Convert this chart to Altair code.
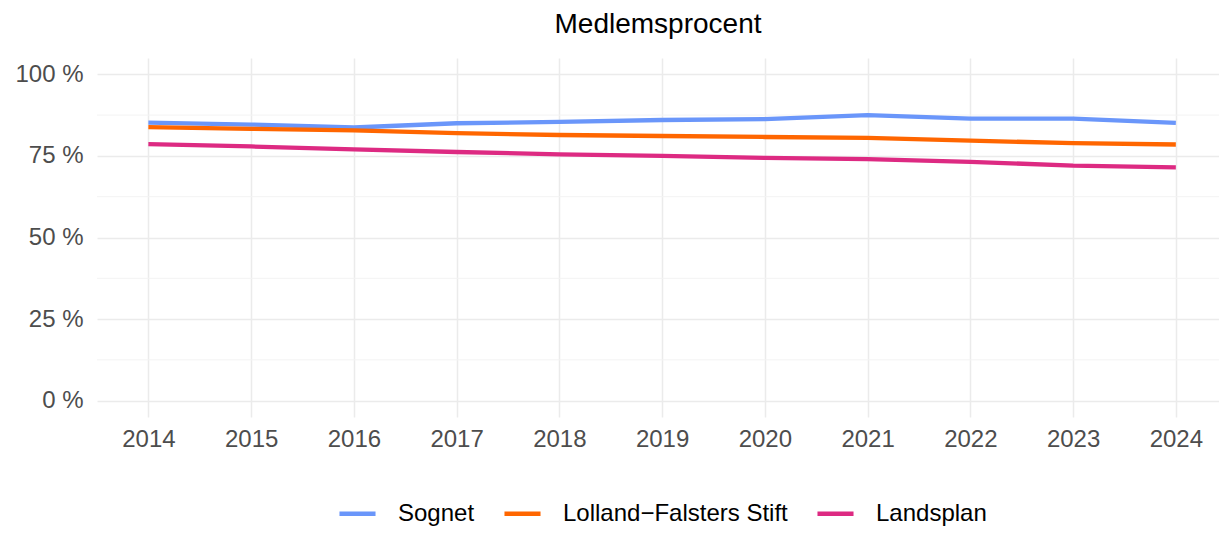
import altair as alt
import pandas as pd

years = list(range(2014, 2025))
sognet = [85.2, 84.6, 83.7, 85.0, 85.4, 86.0, 86.3, 87.5, 86.4, 86.4, 85.1]
stift = [83.8, 83.3, 82.8, 82.0, 81.4, 81.1, 80.8, 80.5, 79.7, 78.9, 78.5]
landsplan = [78.6, 77.9, 77.0, 76.2, 75.5, 75.0, 74.4, 74.0, 73.2, 72.0, 71.5]
series_names = ["Sognet", "Lolland\u2212Falsters Stift", "Landsplan"]
colors = ["#6A96FA", "#FF6600", "#DD2A82"]
y_ticks = [0, 25, 50, 75, 100]
y_minor = [12.5, 37.5, 62.5, 87.5]

rows = []
for name, vals in zip(series_names, [sognet, stift, landsplan]):
    for yr, v in zip(years, vals):
        rows.append({"Aar": yr, "Procent": v, "Serie": name})
df = pd.DataFrame(rows)

FONT = "Liberation Sans"
xscale = alt.Scale(domain=[2013.5, 2024.42], nice=False, zero=False)
yscale = alt.Scale(domain=[-5, 105], nice=False, zero=False)

minor = alt.Chart(pd.DataFrame({"Procent": y_minor})).mark_rule(
    color="#F3F3F3", strokeWidth=1
).encode(y=alt.Y("Procent:Q", scale=yscale))

lines = alt.Chart(df).mark_line(strokeWidth=4.3, strokeCap="butt", strokeJoin="round").encode(
    x=alt.X("Aar:Q", scale=xscale,
            axis=alt.Axis(values=years, format="d", title=None, grid=True,
                          gridColor="#EBEBEB", gridWidth=1.5, ticks=False, domain=False,
                          labelFontSize=24, labelFont=FONT, labelColor="#4D4D4D",
                          labelPadding=10)),
    y=alt.Y("Procent:Q", scale=yscale,
            axis=alt.Axis(values=y_ticks, labelExpr="datum.value + ' %'", title=None,
                          grid=True, gridColor="#EBEBEB", gridWidth=1.5, ticks=False,
                          domain=False, labelFontSize=24, labelFont=FONT,
                          labelColor="#4D4D4D", labelPadding=14)),
    color=alt.Color("Serie:N", scale=alt.Scale(domain=series_names, range=colors),
                    legend=alt.Legend(orient="none", legendX=240, legendY=435,
                                      direction="horizontal", title=None,
                                      symbolType="stroke", symbolStrokeWidth=4.5,
                                      symbolSize=1300, labelFontSize=24, labelFont=FONT,
                                      labelColor="black", labelOffset=20, labelLimit=0,
                                      columnPadding=20)),
    detail="Serie:N",
)

chart = alt.layer(minor, lines).properties(
    width=1130 - 8,
    height=359,
    title=alt.TitleParams("Medlemsprocent", fontSize=28, font=FONT, fontWeight="normal",
                          color="black", anchor="middle", baseline="alphabetic", offset=-3),
    padding={"left": 89, "top": 50, "right": 0, "bottom": 111},
    autosize=alt.AutoSizeParams(type="none"),
).configure_view(stroke=None)

chart.save("out.html", embed_options={"renderer": "svg", "actions": False})
